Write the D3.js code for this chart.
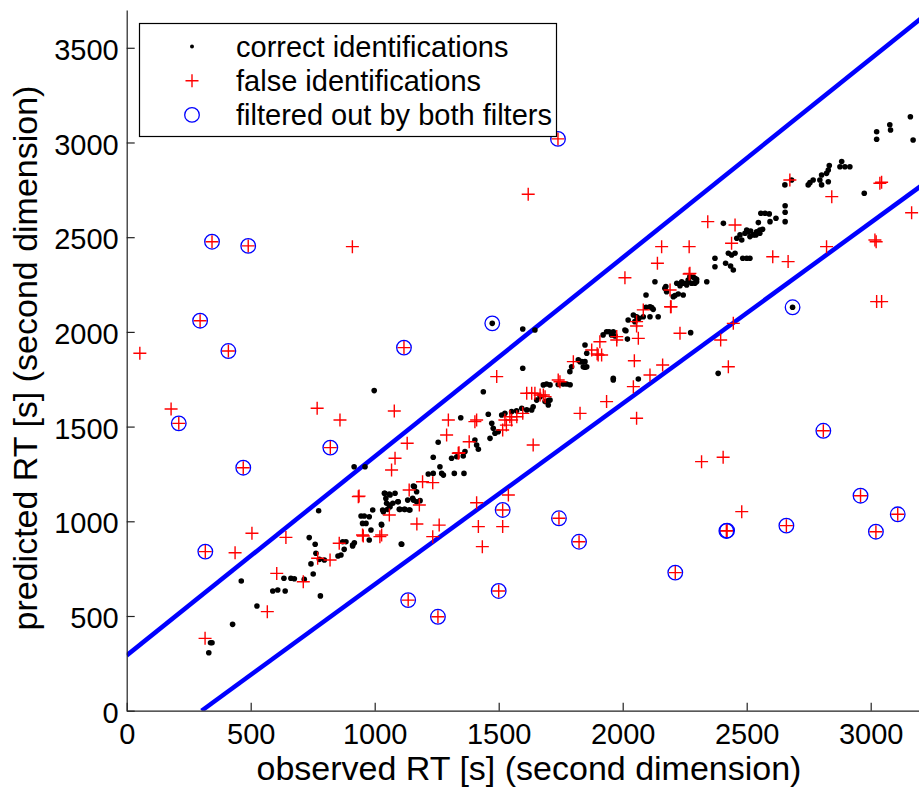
<!DOCTYPE html>
<html>
<head>
<meta charset="utf-8">
<script src="https://cdn.jsdelivr.net/npm/d3@7"></script>
<style>
  html, body { margin: 0; padding: 0; background: #fff; }
  text { font-family: "Liberation Sans", Arial, Helvetica, sans-serif; }
</style>
</head>
<body>
<div class="canvas"></div>
<script>
// axis ticks
const xTicks = [0, 500, 1000, 1500, 2000, 2500, 3000];
const yTicks = [0, 500, 1000, 1500, 2000, 2500, 3000, 3500];

// two filter boundaries [observed, predicted]
const upperBound = [[0, 292], [3200, 3652]];
const lowerBound = [[302, 0], [3200, 2768]];

// correct identifications [observed, predicted]
const correctIds = [
  [344,359],[338,359],[331,306],[427,456],[462,685],[525,553],
  [589,632],[609,637],[639,632],[634,699],[662,699],[676,697],[716,694],
  [781,606],[736,914],[760,879],[774,1056],[743,775],[752,722],[763,831],[777,799],[797,796],
  [852,817],[864,822],[877,852],[871,892],[884,892],[911,875],[918,887],
  [945,1028],[958,1028],[978,1024],[951,989],[965,989],[992,1060],[985,954],[978,901],[1027,984],
  [1039,1148],[1059,1144],[1045,1121],[1059,1086],[1073,1095],[1032,1060],[1052,1063],
  [1099,1063],[1119,1063],[1139,1060],[1093,1103],[1133,1112],[1153,1121],[1160,1183],[1107,880],
  [1041,1148],[1062,1139],[1082,1148],[1048,1095],[1062,1077],[1102,1063],[1122,1063],[1142,1060],
  [1095,1103],[1156,1112],[1169,1103],[1183,1109],[1109,879],[1028,980],[1035,1051],[1156,1186],[1169,1156],
  [917,1288],[961,1288],[911,870],[998,1690],
  [1438,1684],[1458,1565],[1347,1547],[1256,1417],[1236,1338],[1263,1288],[1216,1250],[1236,1253],
  [1270,1253],[1277,1244],[1321,1253],[1360,1253],
  [1310,1333],[1331,1341],[1357,1345],[1364,1368],[1404,1429],[1411,1403],[1418,1380],[1465,1438],
  [1485,1465],[1498,1473],[1472,1517],[1478,1491],
  [1512,1561],[1525,1570],[1552,1579],[1572,1584],[1593,1597],[1613,1588],[1633,1588],[1639,1605],
  [1653,1640],[1667,1658],[1687,1632],[1700,1637],[1707,1640],[1700,1614],
  [1680,1720],[1693,1725],[1707,1720],[1774,1725],[1788,1721],[1760,1725],[1740,1722],
  [1597,1808],[1597,2015],[1646,2010],[1474,2045],
  [1787,1790],[1794,1816],[1828,1843],[1848,1843],[1855,1816],[1821,1852],[1835,1843],[1841,1816],
  [1848,1813],[1855,1887],[1848,1931],
  [1962,1746],[1962,1755],[2063,1751],[2385,1781],
  [1921,1984],[1935,2001],[1962,2001],[1955,1984],[1969,1978],[2013,2006],[2019,1962],[2009,2010],[1945,2001],
  [2022,2063],[2049,2054],[2043,2089],[2056,2080],[2083,2080],[2110,2080],[2066,2072],
  [2110,2133],[2123,2119],[2143,2080],[2094,2130],[2117,2128],[2274,1996],
  [2130,2265],[2094,2195],[2174,2239],[2170,2230],[2177,2212],[2204,2186],[2224,2200],[2244,2195],[2211,2192],
  [2218,2257],[2238,2265],[2264,2274],[2285,2288],[2298,2278],[2339,2265],[2231,2244],[2258,2257],[2291,2257],
  [2271,2292],[2291,2283],[2298,2265],[2244,2257],[2258,2248],[2278,2257],
  [2406,2573],[2547,2577],[2473,2512],[2493,2521],[2506,2529],[2513,2503],[2527,2512],[2460,2494],[2480,2485],
  [2426,2415],[2439,2406],[2453,2415],[2484,2389],[2513,2389],[2372,2389],[2372,2344],[2415,2362],
  [2435,2348],[2446,2327],[2500,2389],
  [2500,2538],[2516,2533],[2540,2529],[2553,2538],[2564,2542],[2537,2512],[2553,2521],
  [2557,2626],[2574,2626],[2591,2623],[2594,2582],[2618,2600],[2655,2666],[2655,2632],[2655,2582],
  [2654,2776],[2681,2802],[2685,2130],
  [2748,2776],[2755,2788],[2768,2802],[2795,2802],[2802,2828],[2802,2776],[2822,2837],[2829,2855],
  [2833,2878],[2829,2793],
  [2883,2899],[2876,2872],[2896,2872],[2916,2872],[2974,2732],
  [3024,3057],[3024,3017],[3077,3094],[3080,3066],[3160,3136],[3171,3013]
];

// false identifications [observed, predicted]
const falseIds = [
  [1739,3019],[344,2476],[490,2454],[296,2059],[410,1899],[1118,1917],[210,1517],[821,1389],
  [470,1283],[317,840],[1135,584],[1255,496],[1516,1060],[1743,1016],[1824,892],[1500,632],
  [2212,729],[2418,949],[2421,951],[2660,977],[2809,1478],[2959,1135],[3021,945],[3109,1037],
  [53,1887],[179,1593],[910,2450],[768,1597],[860,1535],[1079,1582],[1131,1412],[1619,2727],
  [316,382],[437,834],[505,937],[642,915],[567,523],[605,725],[712,681],
  [2318,1315],[2405,1338],[2480,1051],[2426,1816],[3024,2160],[3044,2160],[3017,2485],[3022,2476],
  [3165,2629],[3037,2785],[3044,2790],[2843,2714],[2822,2450],[2605,2397],[2667,2371],[2674,2802],
  [1434,866],[1418,972],[1516,972],[1539,1139],[1411,1098],[2056,1544],
  [934,1130],[937,1133],[770,805],[820,796],[857,884],[954,922],[1021,919],[1059,1033],[1139,1165],
  [1180,1086],[1170,986],[1260,980],[1234,919],[1193,1209],[1234,1204],[951,928],[1028,928],
  [1297,1535],[1290,1456],[1411,1535],[1404,1526],[1082,1333],[1068,1271],[1340,1362],[1337,1359],
  [1381,1420],[1492,1764],[1639,1403],[1828,1570],[1935,1632],
  [1516,1482],[1531,1508],[1552,1535],[1573,1552],[1597,1570],[1545,1552],[1525,1535],
  [1613,1676],[1633,1676],[1646,1676],[1667,1667],[1680,1667],[1687,1658],[1747,1737],[1740,1746],
  [2043,1711],[2047,1848],[2110,1772],[2161,1825],[1901,1878],[1897,1884],
  [2083,2116],[2193,2133],[2056,2031],[2056,2054],[2231,1993],[1976,1957],[1976,1975],[2063,1966],
  [1908,1948],[1915,1878],[1875,1904],[1801,1843],[2446,2045],[2395,1957],
  [2343,2582],[2453,2564],[2439,2468],[2157,2450],[2268,2450],[2140,2362],[2009,2286],[2271,2309],
  [2268,2306],[2191,2221],[2195,2133]
];

// filtered out by both filters [observed, predicted]
const filteredOut = [
  [1739,3019],[344,2476],[490,2454],[296,2059],[410,1899],[1118,1917],[1474,2045],[210,1517],
  [821,1389],[470,1283],[317,840],[1135,584],[1255,496],[1516,1060],[1743,1016],[1824,892],
  [1500,632],[2212,729],[2418,949],[2421,951],[2660,977],[2809,1478],[2959,1135],[3021,945],
  [3109,1037],[2685,2130]
];

const W = 919, H = 788;
const m = {t: 9.9, l: 126.7, r: 920.3, b: 710.7};

const svg = d3.select('.canvas').append('svg')
  .attr('width', W)
  .attr('height', H);

const x = d3.scaleLinear().domain([0, 3200]).range([m.l, m.r]);
const y = d3.scaleLinear().domain([0, 3700]).range([m.b, m.t]);

svg.append('clipPath').attr('id', 'plot-clip')
  .append('rect')
  .attr('x', m.l).attr('y', m.t)
  .attr('width', m.r - m.l).attr('height', m.b - m.t);

// boundary lines
const line = d3.line().x(d => x(d[0])).y(d => y(d[1]));
svg.append('g').attr('clip-path', 'url(#plot-clip)')
  .selectAll('path')
  .data([upperBound, lowerBound])
  .enter()
  .append('path')
  .attr('d', line)
  .attr('fill', 'none')
  .attr('stroke', '#0000ff')
  .attr('stroke-width', 4.5);

// correct ids
svg.append('g')
  .selectAll('circle')
  .data(correctIds)
  .enter()
  .append('circle')
  .attr('cx', d => x(d[0]))
  .attr('cy', d => y(d[1]))
  .attr('r', 2.8)
  .attr('fill', '#000');

// false ids
const plus = 6.5;
svg.append('g')
  .selectAll('path')
  .data(falseIds)
  .enter()
  .append('path')
  .attr('d', d => {
    const cx = x(d[0]), cy = y(d[1]);
    return `M${cx - plus},${cy}H${cx + plus}M${cx},${cy - plus}V${cy + plus}`;
  })
  .attr('stroke', '#ff0000')
  .attr('stroke-width', 1.4)
  .attr('fill', 'none');

// filtered out
svg.append('g')
  .selectAll('circle')
  .data(filteredOut)
  .enter()
  .append('circle')
  .attr('cx', d => x(d[0]))
  .attr('cy', d => y(d[1]))
  .attr('r', 7.3)
  .attr('fill', 'none')
  .attr('stroke', '#0000ff')
  .attr('stroke-width', 1.3);

// axes
const fmt = d3.format('d');
const xAxis = svg.append('g')
  .attr('transform', `translate(0,${m.b})`)
  .call(d3.axisBottom(x).tickValues(xTicks).tickFormat(fmt).tickSizeInner(-8).tickSizeOuter(0).tickPadding(13));
const yAxis = svg.append('g')
  .attr('transform', `translate(${m.l},0)`)
  .call(d3.axisLeft(y).tickValues(yTicks).tickFormat(fmt).tickSizeInner(-8).tickSizeOuter(0).tickPadding(8));

[xAxis, yAxis].forEach(a => {
  a.select('.domain').attr('stroke', '#222').attr('stroke-width', 1.2);
  a.selectAll('.tick line').attr('stroke', '#222').attr('stroke-width', 1.2);
  a.selectAll('.tick text')
    .attr('fill', '#000')
    .style('font-size', '29px')
    .style('font-family', '"Liberation Sans", Arial, sans-serif');
});
yAxis.selectAll('.tick text').attr('dy', '0.4em');

// axis labels
svg.append('text')
  .attr('x', 529)
  .attr('y', 780)
  .attr('text-anchor', 'middle')
  .style('font-size', '34px')
  .text('observed RT [s] (second dimension)');
svg.append('text')
  .attr('transform', 'translate(37,358) rotate(-90)')
  .attr('text-anchor', 'middle')
  .style('font-size', '34px')
  .text('predicted RT [s] (second dimension)');

// legend
const lg = svg.append('g');
lg.append('rect')
  .attr('x', 139.5).attr('y', 23.5)
  .attr('width', 417).attr('height', 113)
  .attr('fill', '#fff')
  .attr('stroke', '#000')
  .attr('stroke-width', 1.2);
const rows = [
  {label: 'correct identifications', type: 'dot'},
  {label: 'false identifications', type: 'plus'},
  {label: 'filtered out by both filters', type: 'circle'}
];
rows.forEach((r, i) => {
  const cy = 46.5 + i * 34.2;
  if (r.type === 'dot') {
    lg.append('circle').attr('cx', 192).attr('cy', cy).attr('r', 2).attr('fill', '#000');
  } else if (r.type === 'plus') {
    lg.append('path')
      .attr('d', `M${192 - plus},${cy}H${192 + plus}M192,${cy - plus}V${cy + plus}`)
      .attr('stroke', '#ff0000').attr('stroke-width', 1.4);
  } else {
    lg.append('circle').attr('cx', 192).attr('cy', cy).attr('r', 7.3)
      .attr('fill', 'none').attr('stroke', '#0000ff').attr('stroke-width', 1.3);
  }
  lg.append('text')
    .attr('x', 236)
    .attr('y', cy + 10)
    .style('font-size', '29px')
    .text(r.label);
});
</script>
</body>
</html>
